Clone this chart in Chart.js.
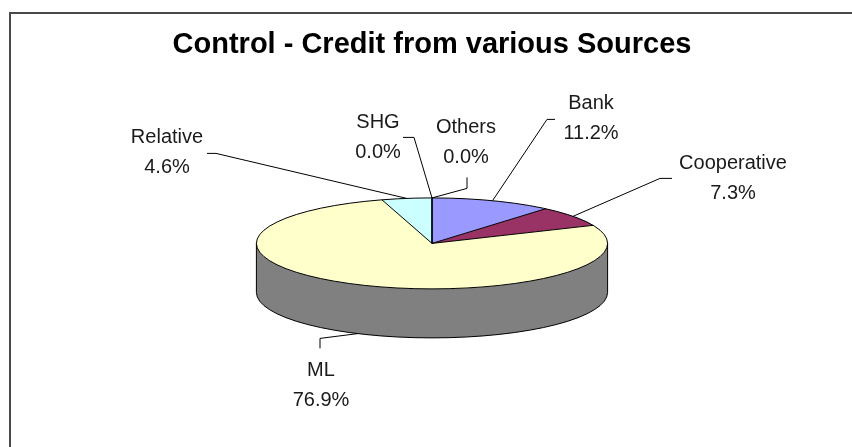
<!DOCTYPE html>
<html>
<head>
<meta charset="utf-8">
<script src="https://cdn.jsdelivr.net/npm/chart.js@4/dist/chart.umd.min.js"></script>
<style>
  html, body { margin: 0; padding: 0; background: #fff; }
  #wrap { position: relative; width: 852px; height: 447px; }
</style>
</head>
<body>
<div id="wrap"><canvas id="c" width="852" height="447"></canvas></div>
<script>
// ---- data ----
const titleText = 'Control - Credit from various Sources';
const categories = ['Bank', 'Cooperative', 'ML', 'Relative', 'SHG', 'Others'];
const shares = [11.2, 7.3, 76.9, 4.6, 0.0, 0.0];

// ---- styles ----
const sliceColors = ['#9999FF', '#993366', '#FFFFCC', '#CCFFFF', '#C0C0C0', '#808000'];
const sideColors  = ['#6b6bb3', '#6b2447', '#808080', '#8fb3b3', '#868686', '#5a5a00'];
const TILT = 0.259;      // vertical squash of the pie
const DEPTH = 49;        // thickness of the pie in px
// label block centres and leader elbows, relative to pie centre (px)
const labelPos = [[159, -125], [301, -65], [-111, 142], [-265, -90.5], [-54, -106], [34, -100.5]];
const leaderElbows = [
  [[123, -124], [115, -124]],
  [[240, -65], [228, -65]],
  [[-112, 105], [-112, 95]],
  [[-225, -90], [-216, -90]],
  [[-29, -106], [-18, -106]],
  [[35, -66], [35, -55]]
];

const pie3d = {
  id: 'pie3d',
  beforeDraw(chart) {
    const ctx = chart.ctx;
    ctx.save();
    ctx.fillStyle = '#ffffff';
    ctx.fillRect(0, 0, chart.width, chart.height);
    ctx.strokeStyle = '#4a4a4a';
    ctx.lineWidth = 2;
    ctx.strokeRect(10, 13, chart.width + 20, chart.height + 20);
    ctx.restore();
  },
  beforeDatasetsDraw(chart) {
    const ctx = chart.ctx;
    const meta = chart.getDatasetMeta(0);
    const p = meta.data[0].getProps(['x', 'y', 'outerRadius'], true);
    const cx = p.x, cy = p.y, r = p.outerRadius, ry = r * TILT;
    ctx.save();
    // sides (front half only)
    meta.data.forEach((arc, i) => {
      const a = arc.getProps(['startAngle', 'endAngle'], true);
      for (let k = -1; k <= 2; k++) {
        const s = Math.max(a.startAngle, 2 * Math.PI * k);
        const e = Math.min(a.endAngle, Math.PI + 2 * Math.PI * k);
        if (e > s) {
          ctx.beginPath();
          ctx.ellipse(cx, cy, r, ry, 0, s, e);
          ctx.ellipse(cx, cy + DEPTH, r, ry, 0, e, s, true);
          ctx.closePath();
          ctx.fillStyle = sideColors[i];
          ctx.fill();
        }
      }
    });
    // squash for the top face drawn by Chart.js
    ctx.translate(cx, cy);
    ctx.scale(1, TILT);
    ctx.translate(-cx, -cy);
  },
  afterDatasetsDraw(chart) {
    const ctx = chart.ctx;
    ctx.restore();
    const meta = chart.getDatasetMeta(0);
    const p = meta.data[0].getProps(['x', 'y', 'outerRadius'], true);
    const cx = p.x, cy = p.y, r = p.outerRadius, ry = r * TILT;
    ctx.save();
    ctx.strokeStyle = '#000';
    ctx.lineWidth = 1;
    // side outline
    ctx.beginPath();
    ctx.moveTo(cx - r, cy);
    ctx.lineTo(cx - r, cy + DEPTH);
    ctx.moveTo(cx + r, cy);
    ctx.lineTo(cx + r, cy + DEPTH);
    ctx.stroke();
    ctx.beginPath();
    ctx.ellipse(cx, cy + DEPTH, r, ry, 0, 0, Math.PI);
    ctx.stroke();
    // top outline
    ctx.beginPath();
    ctx.ellipse(cx, cy, r, ry, 0, 0, 2 * Math.PI);
    ctx.stroke();
    meta.data.forEach((arc) => {
      const a = arc.getProps(['startAngle'], true);
      ctx.beginPath();
      ctx.moveTo(cx, cy);
      ctx.lineTo(cx + r * Math.cos(a.startAngle), cy + ry * Math.sin(a.startAngle));
      ctx.stroke();
    });
    // labels + leaders
    const total = shares.reduce((s, v) => s + v, 0);
    ctx.font = '20px "Liberation Sans", Arial, sans-serif';
    ctx.textAlign = 'center';
    ctx.textBaseline = 'middle';
    meta.data.forEach((arc, i) => {
      const a = arc.getProps(['startAngle', 'endAngle'], true);
      const mid = (a.startAngle + a.endAngle) / 2;
      const front = Math.sin(mid) > 0;
      const tx = cx + r * Math.cos(mid);
      const ty = cy + ry * Math.sin(mid) + (front ? DEPTH : 0);
      const el = leaderElbows[i];
      ctx.beginPath();
      ctx.moveTo(cx + el[0][0], cy + el[0][1]);
      for (let j = 1; j < el.length; j++) ctx.lineTo(cx + el[j][0], cy + el[j][1]);
      ctx.lineTo(tx, ty);
      ctx.stroke();
      const lx = cx + labelPos[i][0], ly = cy + labelPos[i][1];
      ctx.fillStyle = '#1a1a1a';
      ctx.fillText(categories[i], lx, ly - 15);
      ctx.fillText((shares[i] / total * 100).toFixed(1) + '%', lx, ly + 15);
    });
    ctx.restore();
  }
};

new Chart(document.getElementById('c'), {
  type: 'pie',
  data: {
    labels: categories,
    datasets: [{
      data: shares,
      backgroundColor: sliceColors,
      borderWidth: 0,
      clip: false
    }]
  },
  options: {
    responsive: false,
    animation: false,
    events: [],
    layout: { padding: { left: 12, right: 0, top: 0, bottom: 28 } },
    plugins: {
      legend: { display: false },
      tooltip: { enabled: false },
      title: {
        display: true,
        text: titleText,
        color: '#000',
        font: { family: '"Liberation Sans", Arial, sans-serif', size: 29, weight: 'bold', lineHeight: 1.2 },
        padding: { top: 28, bottom: 5 }
      }
    }
  },
  plugins: [pie3d]
});
</script>
</body>
</html>
